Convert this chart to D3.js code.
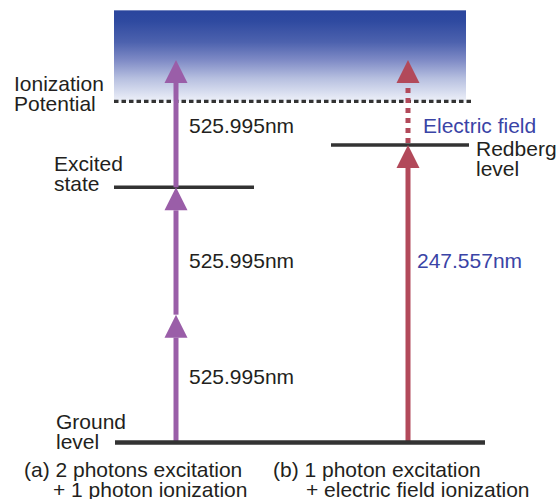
<!DOCTYPE html>
<html><head><meta charset="utf-8">
<script src="https://cdn.jsdelivr.net/npm/d3@7"></script>
<style>html,body{margin:0;padding:0;background:#fff;}svg{display:block;}text{font-family:"Liberation Sans",Arial,Helvetica,sans-serif;}</style>
</head><body>
<svg id="c" width="559" height="499"></svg>
<script>
// Energy in "photon units" (1 = one 525.995 nm photon, diagram not to scale)
const levelNames = ["Ground level", "Excited state", "Redberg level", "Ionization Potential"];
const levelEnergy = [0, 2, 2.333, 2.675];
const continuumTop = 3.39;
// columns: (a) and (b)
const columns = ["a", "b"];
const columnCaptions = [["(a) 2 photons excitation", "+ 1 photon ionization"], ["(b) 1 photon excitation", "+ electric field ionization"]];
// photon steps for (a): from, to (energy)
const stepsA = [[0, 1], [1, 2], [2, 3]];
const stepLabelsA = ["525.995nm", "525.995nm", "525.995nm"];
// (b): laser step and electric-field step
const stepsB = [[0, 2.333], [2.333, 3]];
const stepLabelsB = ["247.557nm", "Electric field"];

const svg = d3.select("#c");
const y = d3.scaleLinear().domain([0, 3]).range([442, 60]);
const x = d3.scalePoint().domain(columns).range([176, 408]);

const purple = "#9a5ea8", red = "#b2495a", blue = "#3a44a6", dark = "#333";

// gradient continuum
const defs = svg.append("defs");
const g = defs.append("linearGradient").attr("id", "cont").attr("x1", 0).attr("y1", 0).attr("x2", 0).attr("y2", 1);
[[0, "#2a459d"], [0.12, "#2f4aa0"], [0.35, "#4d62ae"], [0.55, "#7f8bc6"], [0.75, "#b7c0e0"], [1, "#eef1f9"]]
  .forEach(([o, c]) => g.append("stop").attr("offset", o).attr("stop-color", c));
svg.append("rect").attr("x", 114).attr("width", 466 - 114)
  .attr("y", y(continuumTop)).attr("height", y(levelEnergy[3]) - y(continuumTop))
  .attr("fill", "url(#cont)");

// ionization dotted line
svg.append("line").attr("x1", 114).attr("x2", 471).attr("y1", y(levelEnergy[3])).attr("y2", y(levelEnergy[3]))
  .attr("stroke", dark).attr("stroke-width", 3.2).attr("stroke-dasharray", "4.5,3");

// levels
svg.append("line").attr("x1", 114).attr("x2", 254).attr("y1", y(levelEnergy[1])).attr("y2", y(levelEnergy[1]))
  .attr("stroke", dark).attr("stroke-width", 3.5);
svg.append("line").attr("x1", 331).attr("x2", 469).attr("y1", y(levelEnergy[2])).attr("y2", y(levelEnergy[2]))
  .attr("stroke", dark).attr("stroke-width", 3.5);

function arrow(xc, e0, e1, color) {
  const tip = y(e1), base = tip + 23;
  svg.append("line").attr("x1", xc).attr("x2", xc).attr("y1", y(e0)).attr("y2", base)
    .attr("stroke", color).attr("stroke-width", 5);
  svg.append("path").attr("d", `M${xc},${tip}L${xc - 11.5},${base}L${xc + 11.5},${base}Z`).attr("fill", color);
}
stepsA.forEach(([a, b]) => arrow(x("a"), a, b, purple));
arrow(x("b"), stepsB[0][0], stepsB[0][1], red);
// dotted red from Redberg to top
(function () {
  const xc = x("b"), tip = y(stepsB[1][1]), base = tip + 23;
  svg.append("line").attr("x1", xc).attr("x2", xc).attr("y1", y(stepsB[1][0]) - 2).attr("y2", base + 4)
    .attr("stroke", red).attr("stroke-width", 5).attr("stroke-dasharray", "5,5");
  svg.append("path").attr("d", `M${xc},${tip}L${xc - 11.5},${base}L${xc + 11.5},${base}Z`).attr("fill", red);
})();

// ground line on top of arrow bases
svg.append("line").attr("x1", 115).attr("x2", 485).attr("y1", y(levelEnergy[0]) + 0.5).attr("y2", y(levelEnergy[0]) + 0.5)
  .attr("stroke", dark).attr("stroke-width", 4.5);

const fs = 21;
function txt(xp, yp, s, color) {
  svg.append("text").attr("x", xp).attr("y", yp).attr("font-size", fs).attr("fill", color || "#231f20").text(s);
}
// level labels
txt(14, 90.5, "Ionization"); txt(14, 110.5, "Potential");
txt(54, 171, "Excited"); txt(54, 191, "state");
txt(56, 429, "Ground"); txt(56, 449, "level");
txt(476, 155.5, "Redberg"); txt(476, 176, "level");
// step labels
const labY = [384, 268, 132.5];
stepLabelsA.forEach((s, i) => txt(189, labY[i], s));
txt(417, 268, stepLabelsB[0], blue);
txt(423, 132.5, stepLabelsB[1], blue);
// captions
txt(24, 476.5, columnCaptions[0][0]); txt(53, 497, columnCaptions[0][1]);
txt(273, 476.5, columnCaptions[1][0]); txt(306, 497, columnCaptions[1][1]);
</script>
</body></html>
